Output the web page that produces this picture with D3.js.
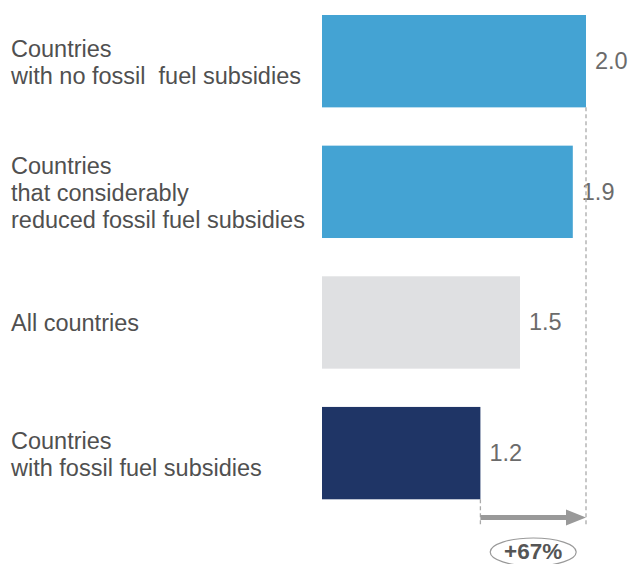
<!DOCTYPE html>
<html>
<head>
<meta charset="utf-8">
<script src="https://cdn.jsdelivr.net/npm/d3@7"></script>
<style>
  body { margin: 0; background: #fff; }
  svg { display: block; font-family: Arial, "Liberation Sans", sans-serif; }
</style>
</head>
<body>
<svg class="main" width="629" height="564"></svg>
<script>
// данные диаграммы
const categories = [
    ["Countries", "with no fossil  fuel subsidies"],
    ["Countries", "that considerably", "reduced fossil fuel subsidies"],
    ["All countries"],
    ["Countries", "with fossil fuel subsidies"]
];
const values = [2.0, 1.9, 1.5, 1.2];
const valueLabels = ["2.0", "1.9", "1.5", "1.2"];
const barColors = ["#44a3d3", "#44a3d3", "#dfe0e2", "#1f3566"];
const changeLabel = "+67%";

const svg = d3.select("svg.main");
const lineH = 27;

const x = d3.scaleLinear()
    .domain([0, 2])
    .range([322, 586]);

const y = d3.scaleBand()
    .domain(d3.range(values.length))
    .range([15, 499.3])
    .paddingInner(0.293)
    .paddingOuter(0);

// столбцы
svg.selectAll("rect.bar")
    .data(values)
    .join("rect")
    .attr("class", "bar")
    .attr("x", x(0))
    .attr("y", (d, i) => y(i))
    .attr("width", d => x(d) - x(0))
    .attr("height", y.bandwidth())
    .attr("fill", (d, i) => barColors[i]);

// подписи категорий
svg.selectAll("text.cat")
    .data(categories)
    .join("text")
    .attr("class", "cat")
    .attr("x", 11)
    .attr("fill", "#505050")
    .style("font-size", "23.5px")
    .style("white-space", "pre")
    .each(function(lines, i) {
        const cy = y(i) + y.bandwidth() / 2;
        const first = cy - (lines.length - 1) * lineH / 2 + 9;
        d3.select(this).selectAll("tspan")
            .data(lines)
            .join("tspan")
            .attr("x", 11)
            .attr("y", (l, k) => first + k * lineH)
            .text(l => l);
    });

// значения
svg.selectAll("text.val")
    .data(values)
    .join("text")
    .attr("class", "val")
    .attr("x", d => x(d) + 9)
    .attr("y", (d, i) => y(i) + y.bandwidth() / 2 + 8)
    .attr("fill", "#6b6b6b")
    .style("font-size", "23.5px")
    .text((d, i) => valueLabels[i]);

// пунктирные линии
const maxV = d3.max(values), minV = d3.min(values);
const last = values.length - 1;
svg.append("line")
    .attr("x1", x(maxV)).attr("x2", x(maxV))
    .attr("y1", y(0) + y.bandwidth()).attr("y2", 526)
    .attr("stroke", "#aaa").attr("stroke-width", 1.3)
    .attr("stroke-dasharray", "4,3");
svg.append("line")
    .attr("x1", x(minV)).attr("x2", x(minV))
    .attr("y1", y(last) + y.bandwidth()).attr("y2", 526)
    .attr("stroke", "#aaa").attr("stroke-width", 1.3)
    .attr("stroke-dasharray", "4,3");

// стрелка
const ay = 517.5;
svg.append("line")
    .attr("x1", x(minV)).attr("x2", x(maxV) - 18)
    .attr("y1", ay).attr("y2", ay)
    .attr("stroke", "#999").attr("stroke-width", 5);
svg.append("path")
    .attr("d", d3.line()([[x(maxV) - 20, ay - 8], [x(maxV), ay], [x(maxV) - 20, ay + 8]]) + "Z")
    .attr("fill", "#999");

// эллипс с процентом
const cx = (x(minV) + x(maxV)) / 2;
svg.append("ellipse")
    .attr("cx", cx).attr("cy", 552)
    .attr("rx", 43).attr("ry", 14)
    .attr("fill", "#fff")
    .attr("stroke", "#999").attr("stroke-width", 1.2);
svg.append("text")
    .attr("x", cx).attr("y", 559)
    .attr("text-anchor", "middle")
    .attr("fill", "#555")
    .style("font-size", "22.5px")
    .style("font-weight", "bold")
    .text(changeLabel);
</script>
</body>
</html>
